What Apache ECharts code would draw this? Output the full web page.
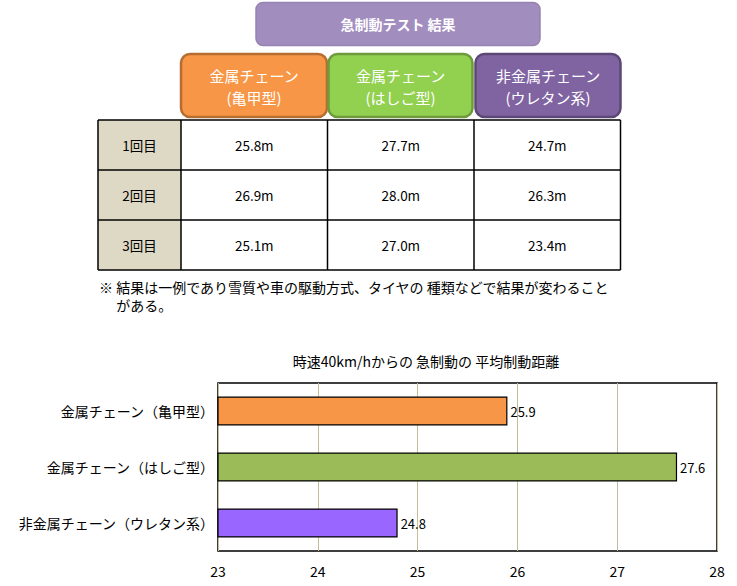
<!DOCTYPE html>
<html>
<head>
<meta charset="utf-8">
<script src="https://cdn.jsdelivr.net/npm/echarts@6/dist/echarts.min.js"></script>
<style>
html,body{margin:0;padding:0;background:#fff;}
#main{width:737px;height:586px;}
</style>
</head>
<body>
<div id="main"></div>
<script>
// ---- data ----
const pageTitle = '急制動テスト 結果';
const chainTypes = ['金属チェーン\n(亀甲型)', '金属チェーン\n(はしご型)', '非金属チェーン\n(ウレタン系)'];
const trialLabels = ['1回目', '2回目', '3回目'];
const trial1 = ['25.8m', '27.7m', '24.7m'];
const trial2 = ['26.9m', '28.0m', '26.3m'];
const trial3 = ['25.1m', '27.0m', '23.4m'];
const noteLines = ['※ 結果は一例であり雪質や車の駆動方式、タイヤの 種類などで結果が変わること', '　 がある。'];
const chartTitle = '時速40km/hからの 急制動の 平均制動距離';
const categories = ['金属チェーン（亀甲型）', '金属チェーン（はしご型）', '非金属チェーン（ウレタン系）'];
const averages = [25.9, 27.6, 24.8];
const xTicks = [23, 24, 25, 26, 27, 28];

// ---- styles ----
const FONT = '"Noto Sans CJK JP", "Noto Sans", sans-serif';
const headerFill = ['#F79646', '#92D050', '#8064A2'];
const headerStroke = ['#B66D31', '#6E9A3C', '#5C4776'];
const barColors = ['#F79646', '#9BBB59', '#9966FF'];

const graphics = [];
// title box
graphics.push({type:'rect', shape:{x:256, y:2.5, width:284, height:43, r:7},
  style:{fill:'#A28DBF', stroke:'#9683B2', lineWidth:1.5}});
graphics.push({type:'text', x:398, y:24, style:{text:pageTitle, fill:'#fff', font:'bold 14px ' + FONT, align:'center', verticalAlign:'middle'}});

// header buttons
const colX = [98, 181, 327.5, 474, 620.5];
const hdrBox = [[181, 327], [328.5, 472.5], [475.5, 620.5]];
chainTypes.forEach((t, i) => {
  const [x0, x1] = hdrBox[i];
  graphics.push({type:'rect', shape:{x:x0, y:54, width:x1 - x0, height:63, r:9},
    style:{fill:headerFill[i], stroke:headerStroke[i], lineWidth:2.5}});
  graphics.push({type:'text', x:(x0 + x1) / 2, y:86, style:{text:t, fill:'#fff', font:'15px ' + FONT, align:'center', verticalAlign:'middle', lineHeight:22}});
});

// table
const rows = [trial1, trial2, trial3];
const rowY = [120, 170, 220, 270];
graphics.push({type:'rect', shape:{x:colX[0], y:rowY[0], width:colX[1] - colX[0], height:rowY[3] - rowY[0]}, style:{fill:'#DDD9C4'}});
rows.forEach((r, ri) => {
  const cy = (rowY[ri] + rowY[ri + 1]) / 2;
  graphics.push({type:'text', x:(colX[0] + colX[1]) / 2, y:cy, style:{text:trialLabels[ri], fill:'#000', font:'13.5px ' + FONT, align:'center', verticalAlign:'middle'}});
  r.forEach((v, ci) => {
    graphics.push({type:'text', x:(colX[ci + 1] + colX[ci + 2]) / 2, y:cy, style:{text:v, fill:'#000', font:'13.5px ' + FONT, align:'center', verticalAlign:'middle'}});
  });
});
rowY.forEach(y => graphics.push({type:'line', shape:{x1:colX[0], y1:y, x2:colX[4], y2:y}, style:{stroke:'#000', lineWidth:1.5}}));
colX.forEach(x => graphics.push({type:'line', shape:{x1:x, y1:rowY[0], x2:x, y2:rowY[3]}, style:{stroke:'#000', lineWidth:1.5}}));

// note (one text block, two lines)
graphics.push({type:'text', x:99, y:278, style:{text:noteLines.join('\n'), fill:'#000', font:'14px ' + FONT, lineHeight:18, verticalAlign:'top'}});

const chart = echarts.init(document.getElementById('main'), null, {renderer:'svg'});
chart.setOption({
  animation:false,
  title:{text:chartTitle, left:421, top:349, textAlign:'center', textStyle:{fontFamily:FONT, fontSize:14, fontWeight:'normal', color:'#000'}},
  grid:{left:218, top:383, width:499, height:168, show:true, borderColor:'#000', borderWidth:1.5, backgroundColor:'#fff'},
  xAxis:{type:'value', min:xTicks[0], max:xTicks[xTicks.length - 1], interval:1,
    axisLine:{show:false}, axisTick:{show:false},
    axisLabel:{fontFamily:FONT, fontSize:14, color:'#000', margin:13, formatter:v => String(v)},
    splitLine:{show:true, lineStyle:{color:'#C4BD97', width:1}}},
  yAxis:{type:'category', data:categories, inverse:true,
    axisLine:{show:false}, axisTick:{show:false},
    axisLabel:{fontFamily:FONT, fontSize:14, color:'#000', margin:4}},
  series:[{type:'bar', barWidth:29,
    data:averages.map((v, i) => ({value:v, itemStyle:{color:barColors[i]}})),
    itemStyle:{borderColor:'#000', borderWidth:1.2},
    label:{show:true, position:'right', distance:3, fontFamily:FONT, fontSize:13, color:'#000'}}],
  graphic:graphics
});
</script>
</body>
</html>
